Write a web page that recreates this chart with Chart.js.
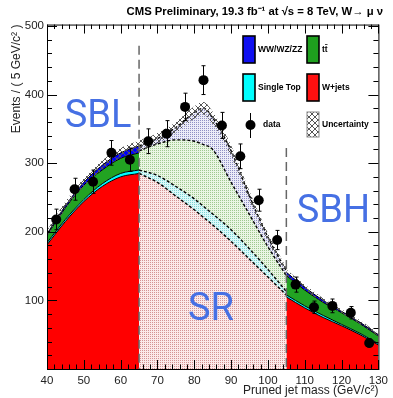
<!DOCTYPE html>
<html>
<head>
<meta charset="utf-8">
<title>Pruned jet mass</title>
<script src="https://cdn.jsdelivr.net/npm/chart.js"></script>
<style>
  html, body { margin: 0; padding: 0; background: #fff; }
  #wrap { position: relative; width: 393px; height: 398px; }
</style>
</head>
<body>
<div id="wrap"><canvas id="massChart" width="393" height="398"></canvas></div>
<script>
// mass points of the three regions (GeV/c^2)
const sblMass = [40, 45, 50, 55, 60, 65];
const srMass = [65, 70, 75, 80, 82.5, 85, 90, 95, 100, 105];
const sbhMass = [105, 110, 115, 120, 125, 130];

// expected events per component, not stacked
const sblWjets = [181, 215, 244, 266, 280, 285];
const sblSingleTop = [3, 3, 3, 4, 5, 5];
const sblTtbar = [11, 17, 21, 20, 22, 25];
const sblDiboson = [2, 3, 4, 7, 8, 10];

const srWjets = [285, 272, 252, 232, 221, 210, 186, 160, 134, 108];
const srSingleTop = [5, 10, 14, 16, 16, 16, 17, 15, 11, 5];
const srTtbar = [28, 46, 68, 84, 90, 94, 69, 50, 33, 23];
const srDiboson = [7, 8, 18, 42, 53, 46, 46, 27, 14, 7];

const sbhWjets = [105, 89, 75, 63, 50, 35];
const sbhSingleTop = [3, 3, 3, 2, 2, 2];
const sbhTtbar = [28, 23, 19, 17, 14, 11];
const sbhDiboson = [5, 4, 3, 2, 2, 2];

// uncertainty on the total
const sblUnc = [5, 6, 6, 7, 7, 8];
const srUnc = [8, 8, 8, 9, 9, 9, 8, 7, 6, 5];
const sbhUnc = [4, 4, 3, 3, 3, 2];

// data
const dataMass = [42.5, 47.5, 52.5, 57.5, 62.5, 67.5, 72.5, 77.5, 82.5, 87.5, 92.5, 97.5, 102.5, 107.5, 112.5, 117.5, 122.5, 127.5];
const dataEvents = [218, 262, 273, 315, 305, 332, 343, 382, 421, 355, 310, 246, 188, 123, 90, 92, 82, 38];
const dataErr = [15, 16, 17, 18, 17, 18, 19, 20, 21, 19, 18, 16, 14, 11, 9, 10, 9, 6];

const xTickValues = [40, 50, 60, 70, 80, 90, 100, 110, 120, 130];
const yTickValues = [100, 200, 300, 400, 500];
const regionEdges = [65, 105];
const regionEdgeTops = [471, 322];

Chart.defaults.font.family = '"Liberation Sans", Arial, sans-serif';

function dotPattern(bg, dot) {
  const c = document.createElement('canvas');
  c.width = 2; c.height = 2;
  const g = c.getContext('2d');
  g.fillStyle = bg; g.fillRect(0, 0, 2, 2);
  g.fillStyle = dot; g.fillRect(0, 0, 1, 1);
  return g.createPattern(c, 'repeat');
}

function crossHatch(color) {
  const c = document.createElement('canvas');
  c.width = 6; c.height = 6;
  const g = c.getContext('2d');
  g.strokeStyle = color; g.lineWidth = 1;
  g.beginPath();
  g.moveTo(0, 0); g.lineTo(6, 6);
  g.moveTo(6, 0); g.lineTo(0, 6);
  g.stroke();
  return g.createPattern(c, 'repeat');
}

const solidFills = ['#ff0000', '#00ffff', '#22a322', '#0000ff'];
const srFills = [
  dotPattern('#fbeaea', '#d49494'),
  dotPattern('#dcfafa', '#80d4d4'),
  dotPattern('#eaf6e4', '#a0c890'),
  dotPattern('#ececf8', '#9090c4')
];
const hatch = crossHatch('#555');

const regions = [
  { mass: sblMass, parts: [sblWjets, sblSingleTop, sblTtbar, sblDiboson], unc: sblUnc, signal: false },
  { mass: srMass, parts: [srWjets, srSingleTop, srTtbar, srDiboson], unc: srUnc, signal: true },
  { mass: sbhMass, parts: [sbhWjets, sbhSingleTop, sbhTtbar, sbhDiboson], unc: sbhUnc, signal: false }
];

const datasets = [];
regions.forEach(region => {
  const running = region.mass.map(() => 0);
  let below = 'origin';
  region.parts.forEach((part, k) => {
    part.forEach((v, i) => { running[i] += v; });
    datasets.push({
      data: region.mass.map((m, i) => ({ x: m, y: running[i] })),
      backgroundColor: region.signal ? srFills[k] : solidFills[k],
      borderColor: '#000',
      borderWidth: region.signal ? 1.4 : 1,
      borderDash: region.signal ? [3, 2] : [],
      fill: below,
      pointRadius: 0,
      cubicInterpolationMode: 'monotone',
      order: 3
    });
    below = datasets.length - 1;
  });
  const lowIdx = datasets.length;
  datasets.push({
    data: region.mass.map((m, i) => ({ x: m, y: running[i] - region.unc[i] })),
    borderWidth: 0,
    pointRadius: 0,
    fill: false,
    cubicInterpolationMode: 'monotone',
    order: 2
  });
  datasets.push({
    data: region.mass.map((m, i) => ({ x: m, y: running[i] + region.unc[i] })),
    borderWidth: 0,
    pointRadius: 0,
    backgroundColor: hatch,
    fill: lowIdx,
    cubicInterpolationMode: 'monotone',
    order: 2
  });
});

datasets.push({
  data: dataMass.map((m, i) => ({ x: m, y: dataEvents[i] })),
  showLine: false,
  pointRadius: 5,
  pointBackgroundColor: '#000',
  pointBorderWidth: 0,
  order: 0
});

const regionLabels = [
  { text: 'SBL', x: 44.8, y: 352 },
  { text: 'SR', x: 78.3, y: 71 },
  { text: 'SBH', x: 107.8, y: 214 }
];

const legendItems = [
  { label: 'WW/WZ/ZZ', fill: '#1010f0', col: 0, row: 0 },
  { label: 'tt\u0304', fill: '#1ea01e', col: 1, row: 0 },
  { label: 'Single Top', fill: '#00ffff', col: 0, row: 1 },
  { label: 'W+jets', fill: '#ff1010', col: 1, row: 1 },
  { label: 'data', marker: true, col: 0, row: 2 },
  { label: 'Uncertainty', hatch: true, col: 1, row: 2 }
];

const decorations = {
  id: 'decorations',
  afterDatasetsDraw(chart) {
    const { ctx, scales: { x, y } } = chart;
    ctx.save();
    // region boundaries
    ctx.strokeStyle = '#666';
    ctx.lineWidth = 1.5;
    ctx.setLineDash([9, 5]);
    regionEdges.forEach((m, i) => {
      const px = x.getPixelForValue(m);
      ctx.beginPath();
      ctx.moveTo(px, y.getPixelForValue(regionEdgeTops[i]));
      ctx.lineTo(px, y.getPixelForValue(0));
      ctx.stroke();
    });
    ctx.setLineDash([]);
    // error bars
    ctx.strokeStyle = '#000';
    ctx.lineWidth = 1;
    dataMass.forEach((m, i) => {
      const px = Math.round(x.getPixelForValue(m)) + 0.5;
      const top = y.getPixelForValue(dataEvents[i] + dataErr[i]);
      const bot = y.getPixelForValue(dataEvents[i] - dataErr[i]);
      ctx.beginPath();
      ctx.moveTo(px, top); ctx.lineTo(px, bot);
      ctx.moveTo(px - 2, top); ctx.lineTo(px + 2, top);
      ctx.moveTo(px - 2, bot); ctx.lineTo(px + 2, bot);
      ctx.stroke();
    });
    ctx.restore();
  },
  afterDraw(chart) {
    const { ctx, chartArea: a, scales: { x, y } } = chart;
    ctx.save();
    // frame
    ctx.strokeStyle = '#000';
    ctx.lineWidth = 1;
    ctx.strokeRect(a.left + 0.5, a.top + 0.5, a.right - a.left, a.bottom - a.top);
    // inward ticks
    ctx.beginPath();
    for (let v = 0; v <= 500; v += 20) {
      const py = Math.round(y.getPixelForValue(v)) + 0.5;
      const len = v % 100 === 0 ? 10 : 5;
      ctx.moveTo(a.left, py); ctx.lineTo(a.left + len, py);
      ctx.moveTo(a.right, py); ctx.lineTo(a.right - len, py);
    }
    for (let v = 40; v <= 130; v += 2) {
      const px = Math.round(x.getPixelForValue(v)) + 0.5;
      const len = v % 10 === 0 ? 9 : 4.5;
      ctx.moveTo(px, a.bottom); ctx.lineTo(px, a.bottom - len);
      ctx.moveTo(px, a.top); ctx.lineTo(px, a.top + len);
    }
    ctx.stroke();

    // region labels
    ctx.fillStyle = '#4670e4';
    ctx.font = '38px Roboto';
    ctx.textBaseline = 'alphabetic';
    regionLabels.forEach(l => {
      ctx.fillText(l.text, x.getPixelForValue(l.x), y.getPixelForValue(l.y));
    });

    // legend
    const colX = [243, 307];
    const rowY = [36, 74, 112];
    ctx.font = 'bold 8.5px "Liberation Sans", Arial, sans-serif';
    ctx.textBaseline = 'middle';
    legendItems.forEach(item => {
      const bx = colX[item.col];
      const by = rowY[item.row];
      const h = item.row === 2 ? 25 : 27;
      if (item.marker) {
        ctx.strokeStyle = '#000';
        ctx.lineWidth = 1;
        ctx.beginPath();
        ctx.moveTo(bx + 7.5, by + 1); ctx.lineTo(bx + 7.5, by + 26);
        ctx.stroke();
        ctx.fillStyle = '#000';
        ctx.beginPath();
        ctx.arc(bx + 7.5, by + 13, 5, 0, Math.PI * 2);
        ctx.fill();
        ctx.fillText(item.label, bx + 20, by + 13);
        return;
      }
      ctx.fillStyle = item.hatch ? hatch : item.fill;
      ctx.fillRect(bx, by, 12, h);
      ctx.strokeStyle = item.hatch ? '#888' : '#000';
      ctx.lineWidth = item.hatch ? 1 : 1.6;
      ctx.strokeRect(bx, by, 12, h);
      ctx.fillStyle = '#000';
      ctx.fillText(item.label, bx + 15, by + h / 2);
    });
    ctx.restore();
  }
};

new Chart(document.getElementById('massChart'), {
  type: 'line',
  data: { datasets },
  options: {
    responsive: false,
    animation: false,
    devicePixelRatio: 1,
    layout: { padding: { top: 0, right: 10, bottom: 0, left: 0 } },
    scales: {
      x: {
        type: 'linear',
        min: 40,
        max: 130,
        afterBuildTicks: s => { s.ticks = xTickValues.map(v => ({ value: v })); },
        afterFit: s => { s.height = 29; },
        grid: { display: false, drawTicks: false },
        border: { display: false },
        ticks: { font: { size: 11.5 }, color: '#222', padding: 5, maxRotation: 0, autoSkip: false },
        title: {
          display: true,
          text: 'Pruned jet mass (GeV/c\u00b2)',
          align: 'end',
          color: '#222',
          font: { size: 12 },
          padding: { top: 0, bottom: 0 }
        }
      },
      y: {
        type: 'linear',
        min: 0,
        max: 502,
        afterBuildTicks: s => { s.ticks = yTickValues.map(v => ({ value: v })); },
        afterFit: s => { s.width = 47; },
        grid: { display: false, drawTicks: false },
        border: { display: false },
        ticks: { font: { size: 11.5 }, color: '#222', padding: 3 },
        title: {
          display: true,
          text: 'Events / ( 5 GeV/c\u00b2 )',
          align: 'end',
          color: '#222',
          font: { size: 12 },
          padding: { top: 9, bottom: 0 }
        }
      }
    },
    plugins: {
      legend: { display: false },
      tooltip: { enabled: false },
      title: {
        display: true,
        text: 'CMS Preliminary, 19.3 fb\u207b\u00b9 at \u221as = 8 TeV, W\u2192 \u03bc \u03bd',
        align: 'end',
        color: '#000',
        font: { size: 11.3, weight: 'bold' },
        padding: { top: 5, bottom: 6 }
      }
    }
  },
  plugins: [decorations]
});
</script>
</body>
</html>
